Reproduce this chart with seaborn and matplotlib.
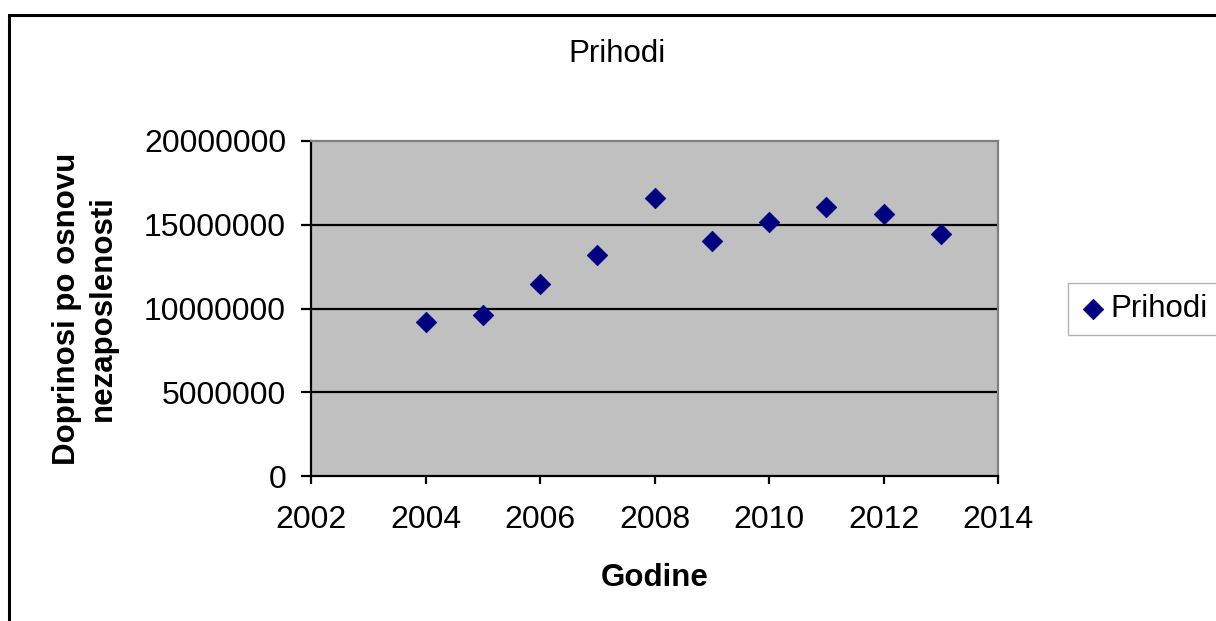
import matplotlib
matplotlib.use("Agg")
import matplotlib.pyplot as plt
import matplotlib.patches as mpatches
import seaborn as sns
import pandas as pd

years = [2004, 2005, 2006, 2007, 2008, 2009, 2010, 2011, 2012, 2013]
prihodi = [9190000, 9610000, 11480000, 13170000, 16580000, 14030000, 15180000, 16040000, 15620000, 14470000]
x_ticks = [2002, 2004, 2006, 2008, 2010, 2012, 2014]
y_ticks = [0, 5000000, 10000000, 15000000, 20000000]

df = pd.DataFrame({"Godine": years, "Prihodi": prihodi})

sns.set_theme(style="white")
plt.rcParams['font.family'] = ['Liberation Sans', 'DejaVu Sans']
plt.rcParams['text.color'] = 'black'
plt.rcParams['axes.labelcolor'] = 'black'
plt.rcParams['xtick.color'] = 'black'
plt.rcParams['ytick.color'] = 'black'

fig = plt.figure(figsize=(12.16, 6.21), dpi=100)
ax = fig.add_axes([311/1216, 1-476/621, (998-311)/1216, (476-141)/621])
ax.set_facecolor('#c0c0c0')

sns.scatterplot(data=df, x="Godine", y="Prihodi", marker='D', s=110,
                color='#000080', edgecolor='#000080', linewidth=0.5, ax=ax,
                label='Prihodi', zorder=3)

ax.set_xlim(2002, 2014)
ax.set_ylim(0, 20000000)
ax.set_xticks(x_ticks)
ax.set_yticks(y_ticks)
ax.set_xticklabels([str(v) for v in x_ticks])
ax.set_yticklabels([str(v) for v in y_ticks])
for yv in y_ticks[1:-1]:
    ax.axhline(yv, color='black', lw=1.6, zorder=1)

for side in ['left', 'bottom']:
    ax.spines[side].set_color('black')
    ax.spines[side].set_linewidth(1.6)
for side in ['top', 'right']:
    ax.spines[side].set_color('#808080')
    ax.spines[side].set_linewidth(1.6)

ax.tick_params(axis='x', direction='out', length=6, width=1.6, pad=15,
               labelsize=23, bottom=True)
ax.tick_params(axis='y', direction='out', length=7, width=1.6, pad=11,
               labelsize=23, left=True)

ax.set_xlabel('Godine', fontsize=22.5, fontweight='bold', labelpad=20)
ax.set_ylabel('Doprinosi po osnovu\nnezaposlenosti', fontsize=22.5,
              fontweight='bold', labelpad=19, linespacing=1.25)

fig.text(617/1216, 1-54/621, 'Prihodi', ha='center', va='center', fontsize=22.5)

leg = ax.legend(loc='upper left', bbox_to_anchor=(1068/1216, 1-283/621),
                bbox_transform=fig.transFigure, frameon=True, fancybox=False,
                fontsize=22.5, handletextpad=0.1, borderpad=0.35,
                handlelength=0.9, borderaxespad=0)
leg.get_frame().set_edgecolor('#a0a0a0')
leg.get_frame().set_linewidth(1.0)

border = mpatches.Rectangle((9/1216, -0.2), 1.5, 1.2 - 15/621,
                            transform=fig.transFigure, fill=False,
                            edgecolor='black', linewidth=2.2, clip_on=False)
fig.patches.append(border)

fig.savefig('out.png', dpi=100)
